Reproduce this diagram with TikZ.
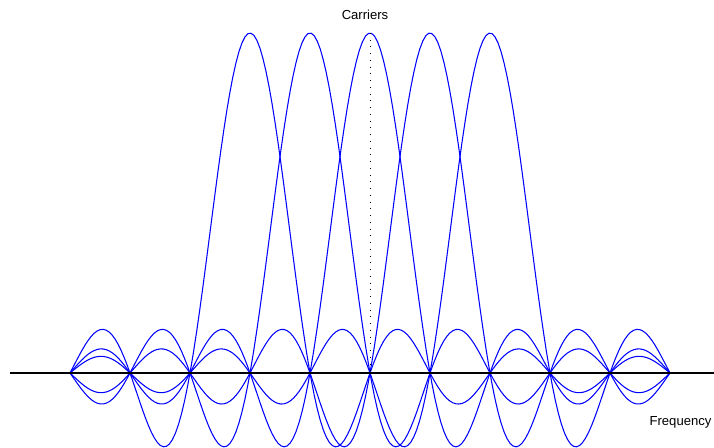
\documentclass[tikz,border=0pt]{standalone}
\usepackage{fontspec}
\setmainfont{Liberation Sans}
\begin{document}
\begin{tikzpicture}[
    carrier/.style={blue, line width=0.5pt},
    axisline/.style={black, line width=0.9pt},
    guide/.style={black, line width=0.4pt, dash pattern=on 0.4pt off 2.8pt},
    lbl/.style={font=\fontsize{6.2}{7.5}\selectfont, inner sep=0pt},
    declare function={sincf(\t)=sin(180*\t)/(pi*\t);}
  ]
  \useasboundingbox (-6.1667,-1.25) rectangle (5.7333,6.2167);

  % Carriers
  \foreach \c in {-2,...,2}
    \draw[carrier] plot[domain=-5:5, samples=200]
      (\x, {5.6667*sincf(\x-(\c))});

  % Axis and guide
  \coordinate (axl) at (-6,0);
  \coordinate (axr) at (5.7333,0);
  \coordinate (top) at (0,5.6667);
  \coordinate (base) at (0,0);
  \draw[guide] (top) -- (base);
  \draw[axisline] (axl) -- (axr);

  % Labels
  \node[lbl] (carriers) at (-0.0833,5.967) {Carriers};
  \node[lbl] (freq) at (5.175,-0.825) {Frequency};
\end{tikzpicture}
\end{document}
